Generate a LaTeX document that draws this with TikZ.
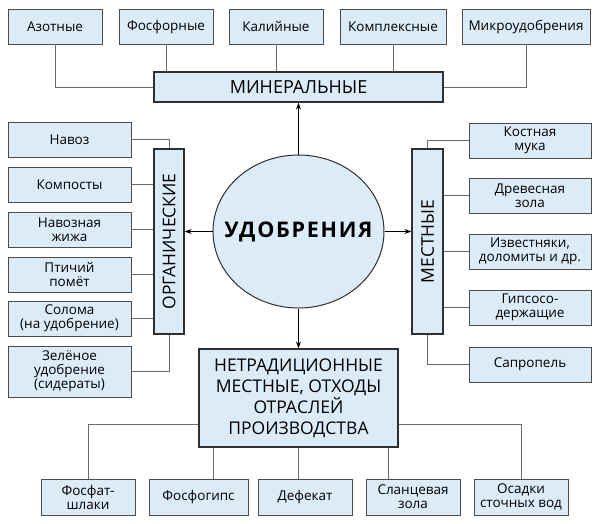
\documentclass[tikz,border=0pt]{standalone}
\usepackage{fontspec}
\usepackage{graphicx}
\setmainfont{Open Sans}
\usetikzlibrary{shapes.geometric,arrows.meta}
\definecolor{boxfill}{HTML}{DCEBF8}
\definecolor{boxline}{HTML}{4D4D4D}
\definecolor{mainline}{HTML}{303030}
\definecolor{conn}{HTML}{6A6A6A}
\begin{document}
\begin{tikzpicture}[x=1pt,y=-1pt,
  smallbox/.style={draw=boxline,line width=0.9pt,fill=boxfill,align=center,inner sep=1pt,
    font=\fontsize{13.5}{14}\selectfont,minimum height=35pt},
  mainbox/.style={draw=mainline,line width=1.2pt,fill=boxfill,align=center,inner sep=1pt,
    font=\fontsize{17.5}{21}\selectfont},
  link/.style={draw=conn,line width=0.9pt},
  arr/.style={draw=black,line width=1pt,-{Stealth[length=7pt,width=5pt]}}]
\useasboundingbox (0,0) rectangle (600,523);
% top row
\node[smallbox,minimum width=94pt] (az) at (55,26.5) {Азотные};
\node[smallbox,minimum width=94pt] (fo) at (166,26.5) {Фосфорные};
\node[smallbox,minimum width=94pt] (ka) at (276,26.5) {Калийные};
\node[smallbox,minimum width=106pt] (ko) at (393,26.5) {Комплексные};
\node[smallbox,minimum width=128pt] (mi) at (526,26.5) {Микроудобрения};
\node[mainbox,minimum width=289pt,minimum height=30pt,font=\fontsize{18}{21}\selectfont] (min) at (298.5,87) {МИНЕРАЛЬНЫЕ};
% left column
\node[smallbox,minimum width=123pt] (nav) at (69.5,139.5) {Навоз};
\node[smallbox,minimum width=123pt] (kmp) at (69.5,184.5) {Компосты};
\node[smallbox,minimum width=123pt] (nzh) at (69.5,229.5) {Навозная\\жижа};
\node[smallbox,minimum width=123pt] (pti) at (69.5,274.5) {Птичий\\помёт};
\node[smallbox,minimum width=123pt] (sol) at (69.5,318.5) {Солома\\(на удобрение)};
\node[smallbox,minimum width=123pt,minimum height=51pt] (zel) at (69.5,371.5) {Зелёное\\удобрение\\(сидераты)};
\node[mainbox,minimum width=30pt,minimum height=185pt] (org) at (169,241.5) {\rotatebox{90}{ОРГАНИЧЕСКИЕ}};
% right column
\node[mainbox,minimum width=31pt,minimum height=185pt] (mes) at (427.5,241.5) {\rotatebox{90}{МЕСТНЫЕ}};
\node[smallbox,minimum width=122pt] (kos) at (530,140.5) {Костная\\мука};
\node[smallbox,minimum width=122pt] (dre) at (530,195.5) {Древесная\\зола};
\node[smallbox,minimum width=122pt] (izv) at (530,251.5) {Известняки,\\доломиты и др.};
\node[smallbox,minimum width=122pt] (gip) at (530,307.5) {Гипсосо-\\держащие};
\node[smallbox,minimum width=122pt] (sap) at (530,364.5) {Сапропель};
% center
\node[ellipse,draw=mainline,line width=1pt,fill=boxfill,minimum width=171pt,minimum height=153pt,inner sep=0pt,
  font=\fontsize{21.5}{24}\selectfont\bfseries\addfontfeatures{LetterSpace=8}] (ud) at (298.5,231.5) {\makebox[0pt]{УДОБРЕНИЯ}};
\node[mainbox,minimum width=199pt,minimum height=98pt] (net) at (298.5,398) {НЕТРАДИЦИОННЫЕ\\МЕСТНЫЕ, ОТХОДЫ\\ОТРАСЛЕЙ\\ПРОИЗВОДСТВА};
% bottom row
\node[smallbox,minimum width=94pt,minimum height=36pt] (fs) at (88,497) {Фосфат-\\шлаки};
\node[smallbox,minimum width=99pt,minimum height=36pt] (fg) at (198.5,497) {Фосфогипс};
\node[smallbox,minimum width=94pt,minimum height=36pt] (def) at (305,497) {Дефекат};
\node[smallbox,minimum width=94pt,minimum height=36pt] (sla) at (413,497) {Сланцевая\\зола};
\node[smallbox,minimum width=94pt,minimum height=36pt] (osa) at (521,497) {Осадки\\сточных вод};
\coordinate (lowbar) at (0,424);
\coordinate (fgx) at (213,0);
\coordinate (slx) at (388,0);
% connectors top
\draw[link] (az.south) |- (min.west);
\draw[link] (fo.south) -- (fo.south |- min.north);
\draw[link] (ka.south) -- (ka.south |- min.north);
\draw[link] (ko.south) -- (ko.south |- min.north);
\draw[link] (mi.south) |- (min.east);
% connectors left
\draw[link] (nav.east) -| (org.north);
\draw[link] (kmp.east) -- (kmp.east -| org.west);
\draw[link] (nzh.east) -- (nzh.east -| org.west);
\draw[link] (pti.east) -- (pti.east -| org.west);
\draw[link] (sol.east) -- (sol.east -| org.west);
\draw[link] (org.south) |- (zel.east);
% connectors right
\draw[link] (kos.west) -| (mes.north);
\draw[link] (dre.west) -- (dre.west -| mes.east);
\draw[link] (izv.west) -- (izv.west -| mes.east);
\draw[link] (gip.west) -- (gip.west -| mes.east);
\draw[link] (mes.south) |- (sap.west);
% connectors bottom
\draw[link] (fs.north) |- (lowbar -| net.west);
\draw[link] (fgx |- fg.north) -- (fgx |- net.south);
\draw[link] (net.south) -- (net.south |- def.north);
\draw[link] (slx |- sla.north) -- (slx |- net.south);
\draw[link] (osa.north) |- (lowbar -| net.east);
% arrows
\draw[arr] (ud.north) -- (min.south);
\draw[arr] (ud.south) -- (net.north);
\draw[arr] (ud.west) -- (ud.west -| org.east);
\draw[arr] (ud.east) -- (ud.east -| mes.west);
\end{tikzpicture}
\end{document}
